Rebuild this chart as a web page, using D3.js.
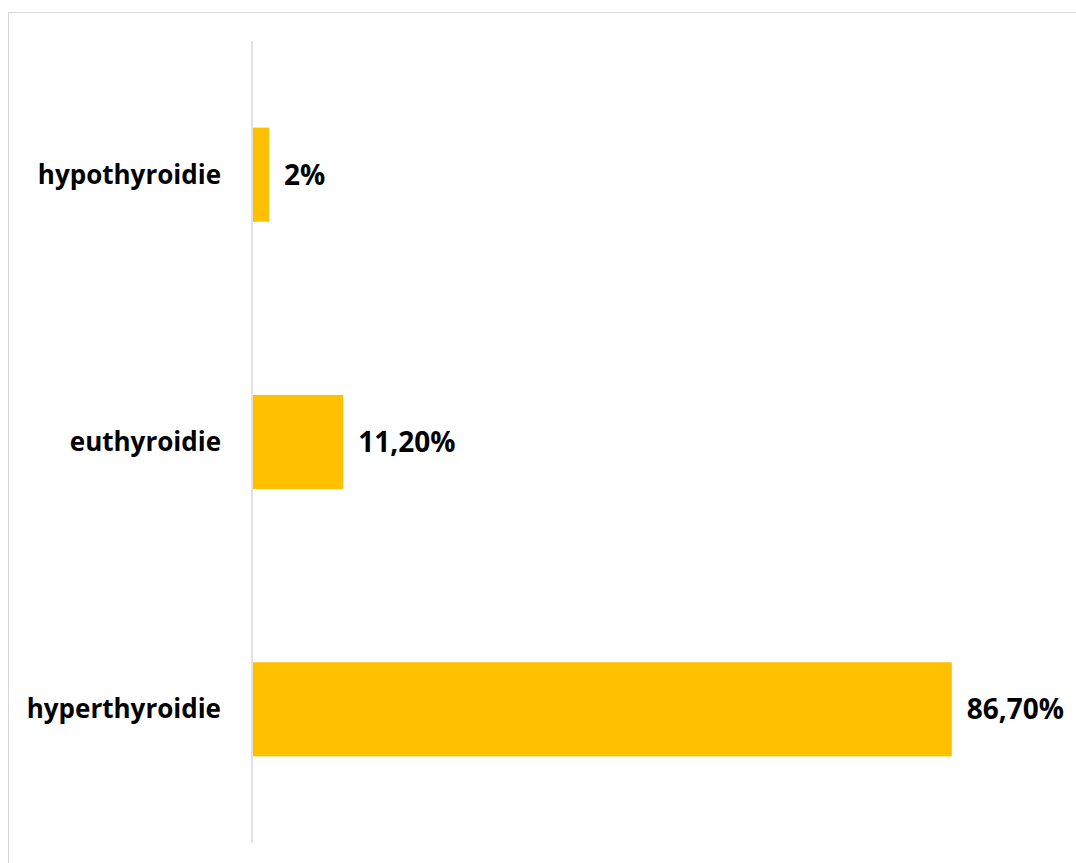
<!DOCTYPE html>
<html>
<head>
<meta charset="utf-8">
<script src="https://cdn.jsdelivr.net/npm/d3@7"></script>
<style>
  body { margin: 0; background: #fff; }
  text { font-family: "Open Sans", Calibri, sans-serif; font-weight: bold; fill: #000; }
</style>
</head>
<body>
<div id="chart"></div>
<script>
// data
var categories = ['hypothyroidie', 'euthyroidie', 'hyperthyroidie']
var values = [2, 11.2, 86.7]
var valueLabels = ['2%', '11,20%', '86,70%']

var width = 1076,
  height = 863

var svg = d3
  .select('#chart')
  .append('svg')
  .attr('width', width)
  .attr('height', height)

// outer chart frame
svg
  .append('rect')
  .attr('x', 8.5)
  .attr('y', 12.5)
  .attr('width', width)
  .attr('height', height)
  .attr('fill', 'none')
  .attr('stroke', '#d9d9d9')
  .attr('stroke-width', 1)

var x = d3.scaleLinear().domain([0, 100]).range([253, 1059])

var y = d3
  .scaleBand()
  .domain(categories)
  .range([41, 843])
  .paddingInner(0.648)
  .paddingOuter(0.324)

var rows = categories.map(function(c, i) {
  return { cat: c, value: values[i], label: valueLabels[i] }
})

svg
  .selectAll('rect.bar')
  .data(rows)
  .enter()
  .append('rect')
  .attr('class', 'bar')
  .attr('x', x(0))
  .attr('y', function(d) { return y(d.cat) })
  .attr('width', function(d) { return x(d.value) - x(0) })
  .attr('height', y.bandwidth())
  .attr('fill', '#ffc000')

// vertical category axis
svg
  .append('line')
  .attr('x1', x(0) - 1)
  .attr('x2', x(0) - 1)
  .attr('y1', 41)
  .attr('y2', 843)
  .attr('stroke', '#d9d9d9')
  .attr('stroke-width', 1.5)

svg
  .selectAll('text.cat')
  .data(rows)
  .enter()
  .append('text')
  .attr('class', 'cat')
  .attr('x', 221)
  .attr('y', function(d) { return y(d.cat) + y.bandwidth() / 2 })
  .attr('dy', '0.35em')
  .attr('text-anchor', 'end')
  .style('font-size', '26px')
  .text(function(d) { return d.cat })

svg
  .selectAll('text.val')
  .data(rows)
  .enter()
  .append('text')
  .attr('class', 'val')
  .attr('x', function(d) { return x(d.value) + 15 })
  .attr('y', function(d) { return y(d.cat) + y.bandwidth() / 2 })
  .attr('dy', '0.36em')
  .style('font-size', '28px')
  .text(function(d) { return d.label })
</script>
</body>
</html>
